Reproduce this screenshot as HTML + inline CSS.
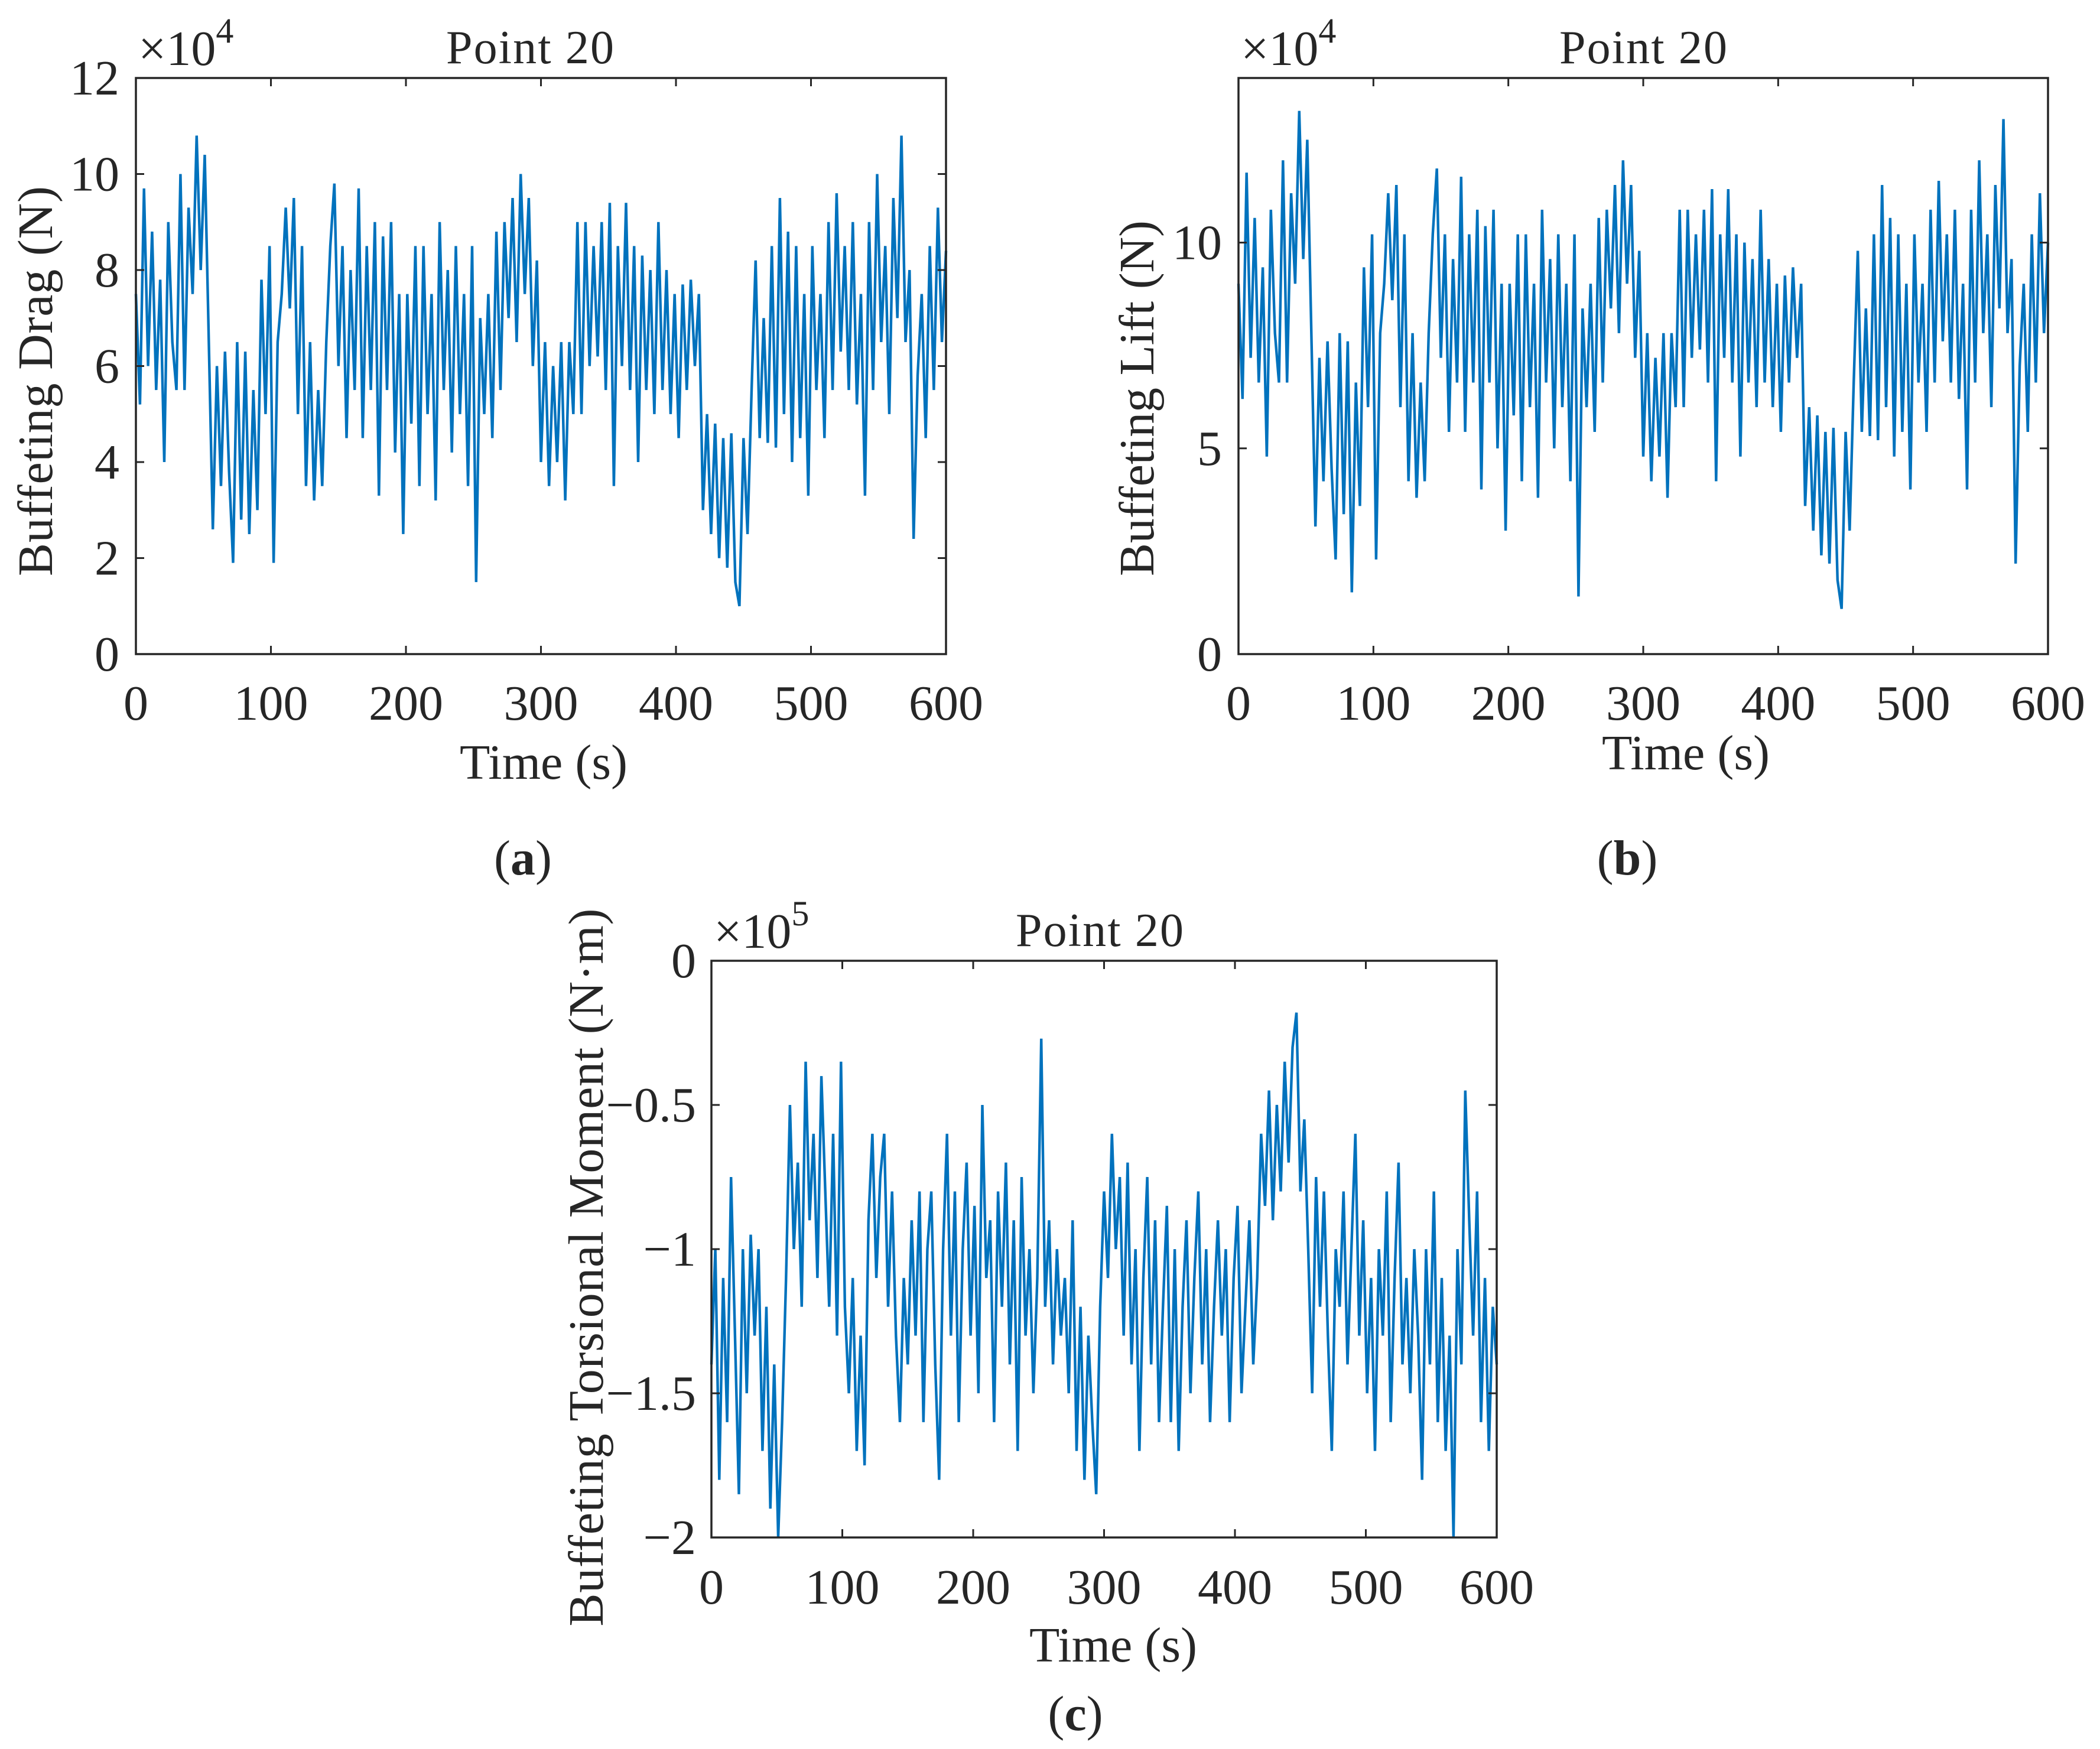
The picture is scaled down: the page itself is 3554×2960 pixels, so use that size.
<!DOCTYPE html>
<html><head><meta charset="utf-8">
<style>
html,body{margin:0;padding:0;background:#fff;}
svg{display:block;}
text{font-family:"Liberation Serif",serif;fill:#262626;}
</style></head>
<body>
<svg id="fig" width="3554" height="2960" viewBox="0 0 3554 2960" xmlns="http://www.w3.org/2000/svg"></svg>
<script>
// ---- data (3 s sampling, 0..600 s) ----
const timeStart = 0, timeEnd = 600;
const xTicks = [0,100,200,300,400,500,600];
const dragTicks = [0,2,4,6,8,10,12];
const liftTicks = [0,5,10];
const torsionTicks = [0,-0.5,-1,-1.5,-2];
const dragValues = [7.5,5.2,9.7,6,8.8,5.5,7.8,4,9,6.5,
5.5,10,5.5,9.3,7.5,10.8,8,10.4,6.5,2.6,
6,3.5,6.3,3.8,1.9,6.5,2.8,6.3,2.5,5.5,
3,7.8,5,8.5,1.9,6.5,7.5,9.3,7.2,9.5,
5,8.5,3.5,6.5,3.2,5.5,3.5,6.5,8.5,9.8,
6,8.5,4.5,8,5.5,9.7,4.5,8.5,5.5,9,
3.3,8.7,5.5,9,4.2,7.5,2.5,7.5,4.8,8.5,
3.5,8.5,5,7.5,3.2,9,5.5,8,4.2,8.5,
5,7.5,3.5,8.5,1.5,7,5,7.5,4.5,8.8,
5.5,9,7,9.5,6.5,10,7.5,9.5,6,8.2,
4,6.5,3.5,6,4,6.5,3.2,6.5,5,9,
5,9,6,8.5,6.2,9,5.5,9.4,3.5,8.5,
6,9.4,5.5,8.5,4,8.3,5.5,8,5,9,
5.5,8,5,7.5,4.5,7.7,5.5,7.8,6,7.5,
3,5,2.5,4.8,2,4.5,1.8,4.6,1.5,1,
4.5,2.5,5.5,8.2,4.5,7,4.4,8.5,4.3,9.5,
5,8.8,4,8.5,4.5,7.5,3.3,8.5,5.5,7.5,
4.5,9,5.5,9.6,6.3,8.5,5.5,9,5.2,7.5,
3.3,9,5.5,10,6.5,8.5,5,9.5,7,10.8,
6.5,8,2.4,5.8,7.5,4.5,8.5,5.5,9.3,6.5,8.4];
const liftValues = [9,6.2,11.7,7.2,10.6,6.6,9.4,4.8,10.8,7.8,
6.6,12,6.6,11.2,9,13.2,9.6,12.5,7.8,3.1,
7.2,4.2,7.6,4.5,2.3,7.8,3.4,7.6,1.5,6.6,
3.6,9.4,6,10.2,2.3,7.8,9,11.2,8.6,11.4,
6,10.2,4.2,7.8,3.8,6.6,4.2,7.8,10.2,11.8,
7.2,10.2,5.4,9.6,6.6,11.6,5.4,10.2,6.6,10.8,
4,10.4,6.6,10.8,5,9,3,9,5.8,10.2,
4.2,10.2,6,9,3.8,10.8,6.6,9.6,5,10.2,
6,9,4.2,10.2,1.4,8.4,6,9,5.4,10.6,
6.6,10.8,8.4,11.4,7.8,12,9,11.4,7.2,9.8,
4.8,7.8,4.2,7.2,4.8,7.8,3.8,7.8,6,10.8,
6,10.8,7.2,10.2,7.4,10.8,6.6,11.3,4.2,10.2,
7.2,11.3,6.6,10.2,4.8,10,6.6,9.6,6,10.8,
6.6,9.6,6,9,5.4,9.2,6.6,9.4,7.2,9,
3.6,6,3,5.8,2.4,5.4,2.2,5.5,1.8,1.1,
5.4,3,6.6,9.8,5.4,8.4,5.3,10.2,5.2,11.4,
6,10.6,4.8,10.2,5.4,9,4,10.2,6.6,9,
5.4,10.8,6.6,11.5,7.6,10.2,6.6,10.8,6.2,9,
4,10.8,6.6,12,7.8,10.2,6,11.4,8.4,13,
7.8,9.6,2.2,7,9,5.4,10.2,6.6,11.2,7.8,10];
const torsionValues = [-1.4,-1.0,-1.8,-1.1,-1.6,-0.75,-1.3,-1.85,-1.0,-1.5,
-0.95,-1.3,-1.0,-1.7,-1.2,-1.9,-1.4,-2.0,-1.6,-1.1,
-0.5,-1.0,-0.7,-1.2,-0.35,-0.9,-0.6,-1.1,-0.4,-0.8,
-1.2,-0.6,-1.3,-0.35,-1.2,-1.5,-1.1,-1.7,-1.3,-1.75,
-0.9,-0.6,-1.1,-0.75,-0.6,-1.2,-0.8,-1.3,-1.6,-1.1,
-1.4,-0.9,-1.3,-0.8,-1.6,-1.0,-0.8,-1.4,-1.8,-1.0,
-0.6,-1.3,-0.8,-1.6,-1.0,-0.7,-1.3,-0.85,-1.5,-0.5,
-1.1,-0.9,-1.6,-0.8,-1.2,-0.7,-1.4,-0.9,-1.7,-0.75,
-1.3,-1.0,-1.5,-1.1,-0.27,-1.2,-0.9,-1.4,-1.0,-1.3,
-1.1,-1.5,-0.9,-1.7,-1.2,-1.8,-1.3,-1.6,-1.85,-1.2,
-0.8,-1.1,-0.6,-1.0,-0.75,-1.3,-0.7,-1.4,-1.0,-1.7,
-1.1,-0.75,-1.4,-0.9,-1.6,-1.2,-0.85,-1.6,-1.0,-1.7,
-1.2,-0.9,-1.5,-1.1,-0.8,-1.4,-1.0,-1.6,-1.2,-0.9,
-1.3,-1.0,-1.6,-1.1,-0.85,-1.5,-1.2,-0.9,-1.4,-1.1,
-0.6,-0.85,-0.45,-0.9,-0.5,-0.8,-0.35,-0.7,-0.3,-0.18,
-0.8,-0.55,-1.0,-1.5,-0.75,-1.2,-0.8,-1.3,-1.7,-1.0,
-1.2,-0.8,-1.4,-1.0,-0.6,-1.3,-0.9,-1.5,-1.1,-1.7,
-1.0,-1.3,-0.8,-1.6,-1.1,-0.7,-1.4,-1.1,-1.5,-1.0,
-1.3,-1.8,-1.0,-1.4,-0.8,-1.6,-1.1,-1.7,-1.3,-2.0,
-1.0,-1.4,-0.45,-0.9,-1.3,-0.8,-1.6,-1.1,-1.7,-1.2,-1.4];

const NS = "http://www.w3.org/2000/svg";
const svg = document.getElementById('fig');
function mk(tag, attrs, parent){
  const e = document.createElementNS(NS, tag);
  for (const k in attrs) e.setAttribute(k, attrs[k]);
  (parent||svg).appendChild(e);
  return e;
}
function fmt(v){ return String(v).replace('-', '\u2212'); }

function panel(cfg){
  const g = mk('g', {});
  
  
  const L=cfg.x0, R=cfg.x1, T=cfg.y0, B=cfg.y1;
  const xs = v => L + (v - timeStart) / (timeEnd - timeStart) * (R - L);
  const ys = v => B - (v - cfg.ymin) / (cfg.ymax - cfg.ymin) * (B - T);
  const n = cfg.values.length;
  let d = '';
  cfg.values.forEach((v,i)=>{
    const t = timeStart + i * (timeEnd - timeStart) / (n - 1);
    d += (i ? 'L' : 'M') + xs(t).toFixed(1) + ',' + ys(v).toFixed(1);
  });
  const line = mk('path', {d:d, fill:'none', stroke:'#0072BD', 'stroke-width':4.4, 'stroke-linejoin':'miter'}, g);
  
  
  const box = mk('rect', {x:L, y:T, width:R-L, height:B-T, fill:'none', stroke:'#262626', 'stroke-width':3.5}, g);
  
  
  xTicks.forEach(v=>{
    const x = xs(v);
    mk('line', {x1:x, y1:B, x2:x, y2:B-14, stroke:'#262626', 'stroke-width':3}, g);
    mk('line', {x1:x, y1:T, x2:x, y2:T+14, stroke:'#262626', 'stroke-width':3}, g);
    const t = mk('text', {x:x, y:cfg.xTickY, 'font-size':84, 'text-anchor':'middle'}, g);
    t.textContent = v;
    
    
  });
  cfg.ticks.forEach(v=>{
    const y = ys(v);
    mk('line', {x1:L, y1:y, x2:L+14, y2:y, stroke:'#262626', 'stroke-width':3}, g);
    mk('line', {x1:R, y1:y, x2:R-14, y2:y, stroke:'#262626', 'stroke-width':3}, g);
    const t = mk('text', {x:cfg.yTickX, y:y+28, 'font-size':84, 'text-anchor':'end'}, g);
    t.textContent = fmt(v);
    
    
  });
  const xt = mk('text', {x:cfg.xTitleX, y:cfg.xTitleY, 'font-size':84, 'text-anchor':'middle', textLength:284}, g);
  xt.textContent = 'Time (s)';
  
  
  const yt = mk('text', {x:0, y:0, 'font-size':84, 'text-anchor':'middle', textLength:cfg.yLen,
    transform:'translate('+cfg.yTitleX+','+cfg.yTitleY+') rotate(-90)'}, g);
  yt.textContent = cfg.ylabel;
  
  
  const tt = mk('text', {x:cfg.titleX, y:T-25, 'font-size':80, 'text-anchor':'middle', textLength:284}, g);
  tt.textContent = 'Point 20';
  
  
  const ex = mk('text', {x:L+4, y:T-22, 'font-size':84}, g);
  
  
  ex.appendChild(document.createTextNode('\u00d710'));
  const sp = mk('tspan', {'font-size':60, dy:-38}, ex);
  sp.textContent = cfg.exp;
  const cap = mk('text', {x:cfg.capX, y:cfg.capY, 'font-size':84, 'text-anchor':'middle'}, g);
  
  
  cap.appendChild(document.createTextNode('('));
  const b = mk('tspan', {'font-weight':'bold'}, cap);
  b.textContent = cfg.cap;
  cap.appendChild(document.createTextNode(')'));
}

panel({name:'panel-a-drag', x0:230, x1:1601, y0:132, y1:1107, ymin:0, ymax:12, values:dragValues, ticks:dragTicks,
  xTickY:1218, yTickX:202, xTitleX:920, xTitleY:1318, yTitleX:88, yTitleY:645, yLen:660,
  ylabel:'Buffeting Drag (N)', titleX:897, exp:'4', cap:'a', capX:885, capY:1480});
panel({name:'panel-b-lift', x0:2096, x1:3466, y0:132, y1:1107, ymin:0, ymax:14, values:liftValues, ticks:liftTicks,
  xTickY:1218, yTickX:2068, xTitleX:2853, xTitleY:1302, yTitleX:1952, yTitleY:674, yLen:602,
  ylabel:'Buffeting Lift (N)', titleX:2781, exp:'4', cap:'b', capX:2754, capY:1480});
panel({name:'panel-c-torsion', x0:1204, x1:2533, y0:1626, y1:2602, ymin:-2, ymax:0, values:torsionValues, ticks:torsionTicks,
  xTickY:2714, yTickX:1178, xTitleX:1884, xTitleY:2812, yTitleX:1020, yTitleY:2145, yLen:1215,
  ylabel:'Buffeting Torsional Moment (N\u00b7m)', titleX:1861, exp:'5', cap:'c', capX:1820, capY:2928});
</script>
</body></html>
